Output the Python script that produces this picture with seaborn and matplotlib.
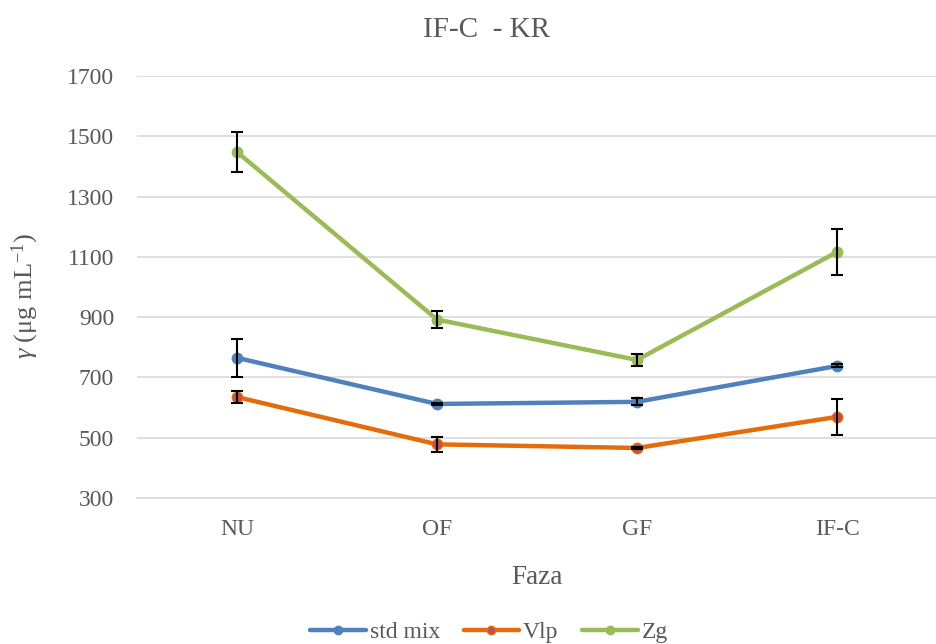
import matplotlib
matplotlib.use("Agg")
import matplotlib.pyplot as plt
import seaborn as sns
import pandas as pd
import numpy as np

categories = ["NU", "OF", "GF", "IF-C"]
std_mix = [765, 612, 619, 738]
std_mix_err = [62, 3, 12, 5]
vlp = [635, 478, 466, 569]
vlp_err = [20, 26, 4, 60]
zg = [1448, 892, 758, 1116]
zg_err = [66, 27, 21, 76]
series_names = ["std mix", "Vlp", "Zg"]
y_ticks = [300, 500, 700, 900, 1100, 1300, 1500, 1700]

sns.set_theme(style="white")
plt.rcParams["font.family"] = ["Liberation Serif", "DejaVu Serif"]
plt.rcParams["mathtext.fontset"] = "custom"
plt.rcParams["mathtext.rm"] = "Liberation Serif"
plt.rcParams["mathtext.it"] = "Liberation Serif:italic"

gray = "#595959"
colors = ["#4F81BD", "#E46C0A", "#9BBB59"]
face = ["#4F81BD", "#C0504D", "#9BBB59"]

rows = []
for name, vals, errs in zip(series_names, [std_mix, vlp, zg], [std_mix_err, vlp_err, zg_err]):
    for i, (c, v, e) in enumerate(zip(categories, vals, errs)):
        rows.append({"Faza": c, "x": i, "value": v, "err": e, "series": name})
df = pd.DataFrame(rows)

fig = plt.figure(figsize=(9.36, 6.44), dpi=100)
ax = fig.add_axes([137 / 936, 1 - 498 / 644, 800 / 936, 422 / 644])

for name, col, fc in zip(series_names, colors, face):
    sub = df[df.series == name]
    sns.lineplot(data=sub, x="x", y="value", ax=ax, color=col, linewidth=3.2,
                 marker="o", markersize=7.5, markerfacecolor=fc, markeredgecolor=col,
                 markeredgewidth=1, label=name, zorder=3)
    ax.errorbar(sub["x"], sub["value"], yerr=sub["err"], fmt="none", ecolor="black",
                elinewidth=1.5, capsize=4.5, capthick=1.5, zorder=4)

ax.set_xlim(-0.5, 3.5)
ax.set_ylim(300, 1700)
ax.set_yticks(y_ticks)
ax.set_yticklabels([str(t) for t in y_ticks])
ax.set_xticks(range(len(categories)))
ax.set_xticklabels(categories)
ax.yaxis.grid(True, color="#D9D9D9", linewidth=1.2)
ax.set_axisbelow(True)
for s in ["top", "right", "left"]:
    ax.spines[s].set_visible(False)
ax.spines["bottom"].set_color("#D9D9D9")
ax.spines["bottom"].set_linewidth(1.2)
ax.tick_params(axis="y", colors=gray, labelsize=17, length=0, pad=16.5)
ax.tick_params(axis="x", colors=gray, labelsize=17, length=0, pad=15)

ax.set_xlabel("")
ax.set_ylabel("")
fig.text((137 + 400) / 936 - 0.0, 1 - 577 / 644, "Faza", ha="center", va="center",
         fontsize=19.5, color=gray)
fig.text(25 / 936, 1 - 296 / 644, r"$\mathit{\gamma}$ (μg mL$^{-1}$)", ha="center", va="center",
         rotation=90, fontsize=19, color=gray)
fig.text(486 / 936, 1 - 30 / 644, "IF-C  - KR", ha="center", va="center", fontsize=21, color=gray)

ax.legend(loc="center", bbox_to_anchor=((489 - 137) / 800, (498 - 632) / 422),
          ncol=3, frameon=False, fontsize=17, labelcolor=gray, handlelength=2.35,
          columnspacing=1.0, handletextpad=0.17, markerscale=0.8)

fig.savefig("out.png", dpi=100)
